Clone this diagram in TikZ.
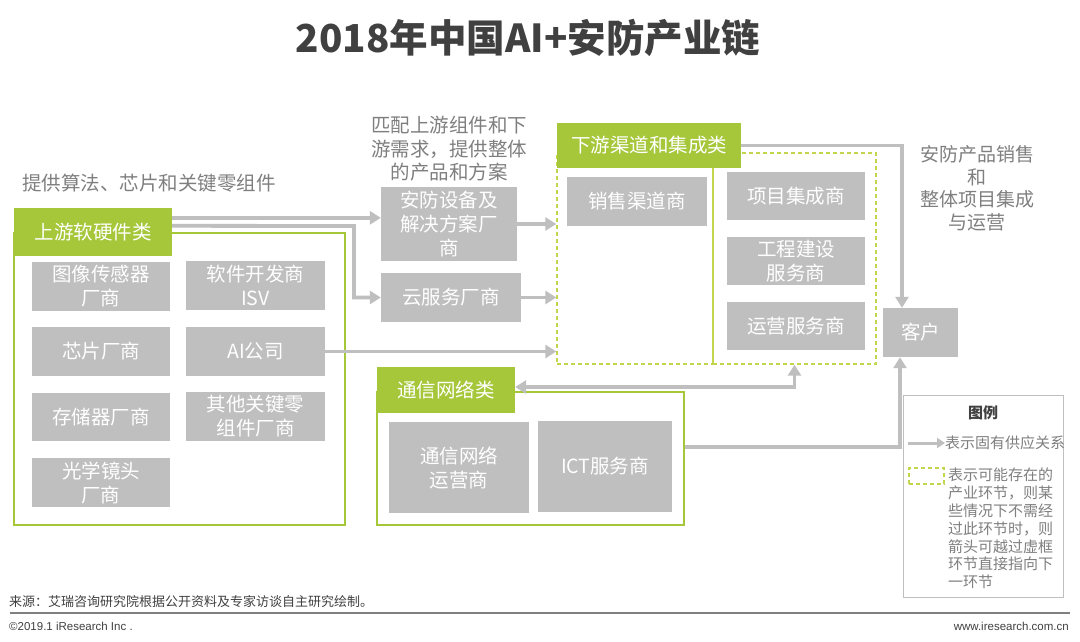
\documentclass[tikz,border=0pt]{standalone}
\usepackage{fontspec}
\setmainfont{Noto Sans CJK SC}
\newfontfamily\latinf{Liberation Sans}
\usetikzlibrary{arrows.meta}
\definecolor{grn}{HTML}{A5C739}
\definecolor{dgrn}{HTML}{C3D54C}
\definecolor{bgray}{HTML}{BFBFBF}
\definecolor{lgray}{HTML}{BFBFBF}
\definecolor{tgray}{HTML}{7F7F7F}
\definecolor{dark}{HTML}{404040}
\newcommand\fsz[2]{\fontsize{#1}{#2}\selectfont}
\begin{document}
\begin{tikzpicture}[x=1pt,y=-1pt,
  gbox/.style={fill=bgray,text=white,font=\fsz{19.5}{24},align=center,inner sep=0pt},
  hdr/.style={fill=grn,text=white,font=\fsz{19.5}{24},inner sep=0pt},
  gframe/.style={draw=grn,line width=1.6pt,inner sep=0pt},
  dframe/.style={draw=dgrn,line width=1.4pt,dash pattern=on 4pt off 3pt,inner sep=0pt},
  conn/.style={draw=lgray,line width=3.8pt},
  tip/.tip={Triangle[length=11pt,width=13pt]},
  arr/.style={conn,-tip},
  lbl/.style={text=tgray,font=\fsz{19.5}{23.5},align=center,inner sep=0pt},
  small/.style={inner sep=0pt,font=\fsz{15}{17.8},text=tgray,align=left}
]
\useasboundingbox (0,0) rectangle (1080,641);
\fill[white] (0,0) rectangle (1080,641);

% title
\node[font=\bfseries\fsz{38.5}{44},text=dark] (title) at (528,38) {2018年中国AI+安防产业链};

% upstream group
\node[gframe,minimum width=331,minimum height=292] (uo) at (179.5,379) {};
\node[hdr,minimum width=158,minimum height=48] (uh) at (93,232) {上游软硬件类};
\node[gbox,minimum width=138,minimum height=49] (img) at (101,286.5) {图像传感器\\厂商};
\node[gbox,minimum width=139,minimum height=49] (sw) at (255.5,285.5) {软件开发商\\ISV};
\node[gbox,minimum width=138,minimum height=49] (chip) at (101,351.5) {芯片厂商};
\node[gbox,minimum width=139,minimum height=49] (ai) at (255.5,351.5) {AI公司};
\node[gbox,minimum width=138,minimum height=48] (mem) at (101,417) {存储器厂商};
\node[gbox,minimum width=139,minimum height=49] (oth) at (255.5,416.5) {其他关键零\\组件厂商};
\node[gbox,minimum width=138,minimum height=49] (lens) at (101,482.5) {光学镜头\\厂商};

% middle
\node[gbox,minimum width=136,minimum height=74] (sec) at (449,224) {安防设备及\\解决方案厂\\商};
\node[gbox,minimum width=140,minimum height=49] (cloud) at (451,297.5) {云服务厂商};

% downstream group
\node[dframe,minimum width=156,minimum height=211] (dl) at (635,258.5) {};
\node[dframe,minimum width=163,minimum height=211] (dr) at (794.5,258.5) {};
\node[hdr,minimum width=184,minimum height=45] (dh) at (649,145.5) {下游渠道和集成类};
\node[gbox,minimum width=140,minimum height=49] (sales) at (637,201.5) {销售渠道商};
\node[gbox,minimum width=138,minimum height=48] (proj) at (796,196) {项目集成商};
\node[gbox,minimum width=138,minimum height=48] (eng) at (796,261) {工程建设\\服务商};
\node[gbox,minimum width=138,minimum height=48] (ops) at (796,326) {运营服务商};

% customer
\node[gbox,minimum width=75,minimum height=49] (cust) at (920.5,332.5) {客户};

% communication group
\node[gframe,minimum width=307,minimum height=133] (co) at (530.5,458.5) {};
\node[hdr,minimum width=138,minimum height=46] (ch) at (446,390) {通信网络类};
\node[gbox,minimum width=140,minimum height=91] (op2) at (459,467.5) {通信网络\\运营商};
\node[gbox,minimum width=134,minimum height=91] (ict) at (605,466.5) {ICT服务商};

% labels
\node[lbl,anchor=west] (l1) at (22,183) {提供算法、芯片和关键零组件};
\node[lbl] (l2) at (449,149) {匹配上游组件和下\\游需求，提供整体\\的产品和方案};
\node[lbl,font=\fsz{19}{22.5}] (l3) at (977,188.5) {安防产品销售\\和\\整体项目集成\\与运营};

% connectors
\coordinate (bend) at (354,226);
\draw[arr] ([yshift=-10pt]uh.north east) -- ([yshift=-10pt]uh.north east -| sec.west);
\draw[arr] ([yshift=-18pt]uh.north east) -- (bend) |- (cloud.west);
\draw[arr] (sec.east) -- (sec.east -| dl.west);
\draw[arr] (cloud.east) -- (cloud.east -| dl.west);
\draw[arr] (ai.east) -- (ai.east -| dl.west);
\draw[arr] (dh.east) -| ([xshift=-18.5pt]cust.north);
\draw[conn,tip-tip] ([yshift=3pt]ch.east) -| (dr.south);
\draw[arr] ([yshift=11.5pt]co.east) -| ([xshift=-20.5pt]cust.south);

% legend
\node[draw=lgray,line width=1pt,minimum width=160,minimum height=202,inner sep=0pt] (lg) at (983,496) {};
\node[font=\bfseries\fsz{15}{18},text=dark] (lgt) at (983,413) {图例};
\coordinate (la1) at (908,443);
\node[small,anchor=west] (lgtx1) at (945,443) {表示固有供应关系};
\draw[conn,line width=3pt,-{Triangle[length=8pt,width=10pt]}] (la1) -- (lgtx1.west);
\node[dframe,line width=1.2pt,minimum width=35,minimum height=16] (lgd) at (926.5,476) {};
\node[small,anchor=north west] (lgtx2) at (948,468) {表示可能存在的\\产业环节，则某\\些情况下不需经\\过此环节时，则\\箭头可越过虚框\\环节直接指向下\\一环节};

% footer
\node[anchor=west,inner sep=0pt,font=\fsz{13}{15},text=dark] (src) at (9,602) {来源：艾瑞咨询研究院根据公开资料及专家访谈自主研究绘制。};
\coordinate (r1) at (10,613);
\coordinate (r2) at (1070,613);
\draw[draw=gray,line width=1.2pt] (r1) -- (r2);
\node[anchor=west,inner sep=0pt,font=\latinf\fsz{11.5}{14},text=dark] (cp) at (9,626) {©2019.1 iResearch Inc .};
\node[anchor=east,inner sep=0pt,font=\latinf\fsz{11.5}{14},text=dark] (web) at (1069,626) {www.iresearch.com.cn};
\end{tikzpicture}
\end{document}
